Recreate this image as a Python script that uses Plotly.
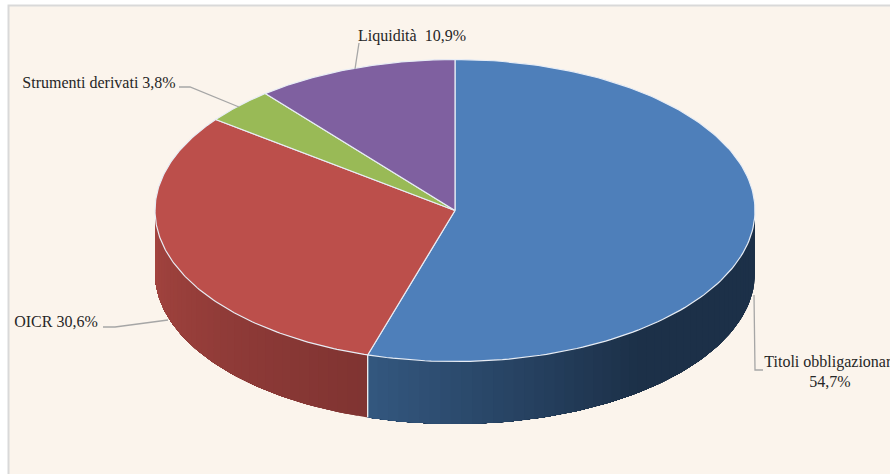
import numpy as np
import plotly.graph_objects as go

# Data
categories = ["Titoli obbligazionari", "OICR", "Strumenti derivati", "Liquidità"]
values = [54.7, 30.6, 3.8, 10.9]
label_texts = ["Titoli obbligazionari<br>54,7%", "OICR 30,6%", "Strumenti derivati 3,8%", "Liquidità  10,9%"]

# Styles
top_colors = ["#4e7fba", "#bc4f4b", "#99ba56", "#7f60a0"]
side_start = {0: (28, 48, 72), 1: (165, 69, 64)}
side_end = {0: (52, 88, 128), 1: (128, 52, 50)}
BG = "#fbf4ec"
W, H = 890, 474
CX, CY, RX, RY, DEPTH = 455, 210.5, 300, 151, 62.5
LABEL_POS = [(830, 373), (56, 323), (99, 83.5), (412, 37)]
LEADERS = [
    ([754, 755, 763], [295, 370, 370]),
    ([103, 115, 168], [327, 327, 320]),
    ([179, 190, 239], [87, 87, 107]),
    ([359, 355], [43, 69]),
]


def ell(t, dy=0.0):
    r = np.radians(t)
    return CX + RX * np.sin(r), CY - RY * np.cos(r) + dy


fig = go.Figure()

cum = np.concatenate([[0], np.cumsum(values)]) / sum(values) * 360.0


def side_color(t):
    if t <= cum[1]:
        f = np.clip((cum[1] - t) / 55.0, 0, 1)
        a, b = side_end[0], side_start[0]
    else:
        f = np.clip((t - cum[1]) / (270 - cum[1]), 0, 1)
        a, b = side_end[1], side_start[1]
    c = [int(a[i] + (b[i] - a[i]) * f) for i in range(3)]
    return f"rgb({c[0]},{c[1]},{c[2]})"


# Side wall: each band runs to the end of its colour group, painted in order,
# so neighbouring bands overlap and leave no seams.
for lo, hi in [(90.0, cum[1]), (cum[1], 270.0)]:
    edges = np.linspace(lo, hi, int((hi - lo) / 2) + 1)
    for t0, t1 in zip(edges[:-1], edges[1:]):
        ts = np.linspace(t0, hi, max(4, int(hi - t0) + 2))
        x1, y1 = ell(ts)
        x2, y2 = ell(ts[::-1], DEPTH)
        col = side_color((t0 + t1) / 2)
        fig.add_trace(go.Scatter(
            x=np.r_[x1, x2, x1[0]], y=np.r_[y1, y2, y1[0]], mode="lines",
            fill="toself", fillcolor=col, line=dict(color=col, width=0),
            hoverinfo="skip", showlegend=False))

# White separator on the wall where the first slice ends
xs, ys = ell(np.array([cum[1], cum[1]]), np.array([0, DEPTH]))
fig.add_trace(go.Scatter(x=xs, y=ys, mode="lines", line=dict(color="#f2f2f2", width=1.3),
                         hoverinfo="skip", showlegend=False))

# Top slices
for i, (name, col) in enumerate(zip(categories, top_colors)):
    ts = np.linspace(cum[i], cum[i + 1], 160)
    x, y = ell(ts)
    fig.add_trace(go.Scatter(
        x=np.r_[CX, x, CX], y=np.r_[CY, y, CY], mode="lines", name=name,
        fill="toself", fillcolor=col, line=dict(color="#e8edf5", width=1.2),
        hoverinfo="name", showlegend=False))

# Leader lines
for lx, ly in LEADERS:
    fig.add_trace(go.Scatter(x=lx, y=ly, mode="lines", line=dict(color="#a6a6a6", width=1.3),
                             hoverinfo="skip", showlegend=False))

# Labels
fig.add_trace(go.Scatter(
    x=[p[0] for p in LABEL_POS], y=[p[1] for p in LABEL_POS], mode="text",
    text=label_texts, textposition="middle center",
    textfont=dict(family="Liberation Serif", size=16, color="#262626"),
    hoverinfo="skip", showlegend=False, cliponaxis=False))

fig.update_layout(
    width=W, height=H, margin=dict(l=0, r=0, t=0, b=0),
    paper_bgcolor="white", plot_bgcolor="white",
    xaxis=dict(range=[0, W], visible=False, fixedrange=True),
    yaxis=dict(range=[H, 0], visible=False, fixedrange=True),
    shapes=[dict(type="rect", xref="x", yref="y", x0=8.5, y0=5.5, x1=W + 10, y1=H + 10,
                 fillcolor=BG, line=dict(color="#d9d9d9", width=2), layer="below")],
)

fig.write_html("out.html", config={"displayModeBar": False},
               post_script="document.body.style.margin='0';")
